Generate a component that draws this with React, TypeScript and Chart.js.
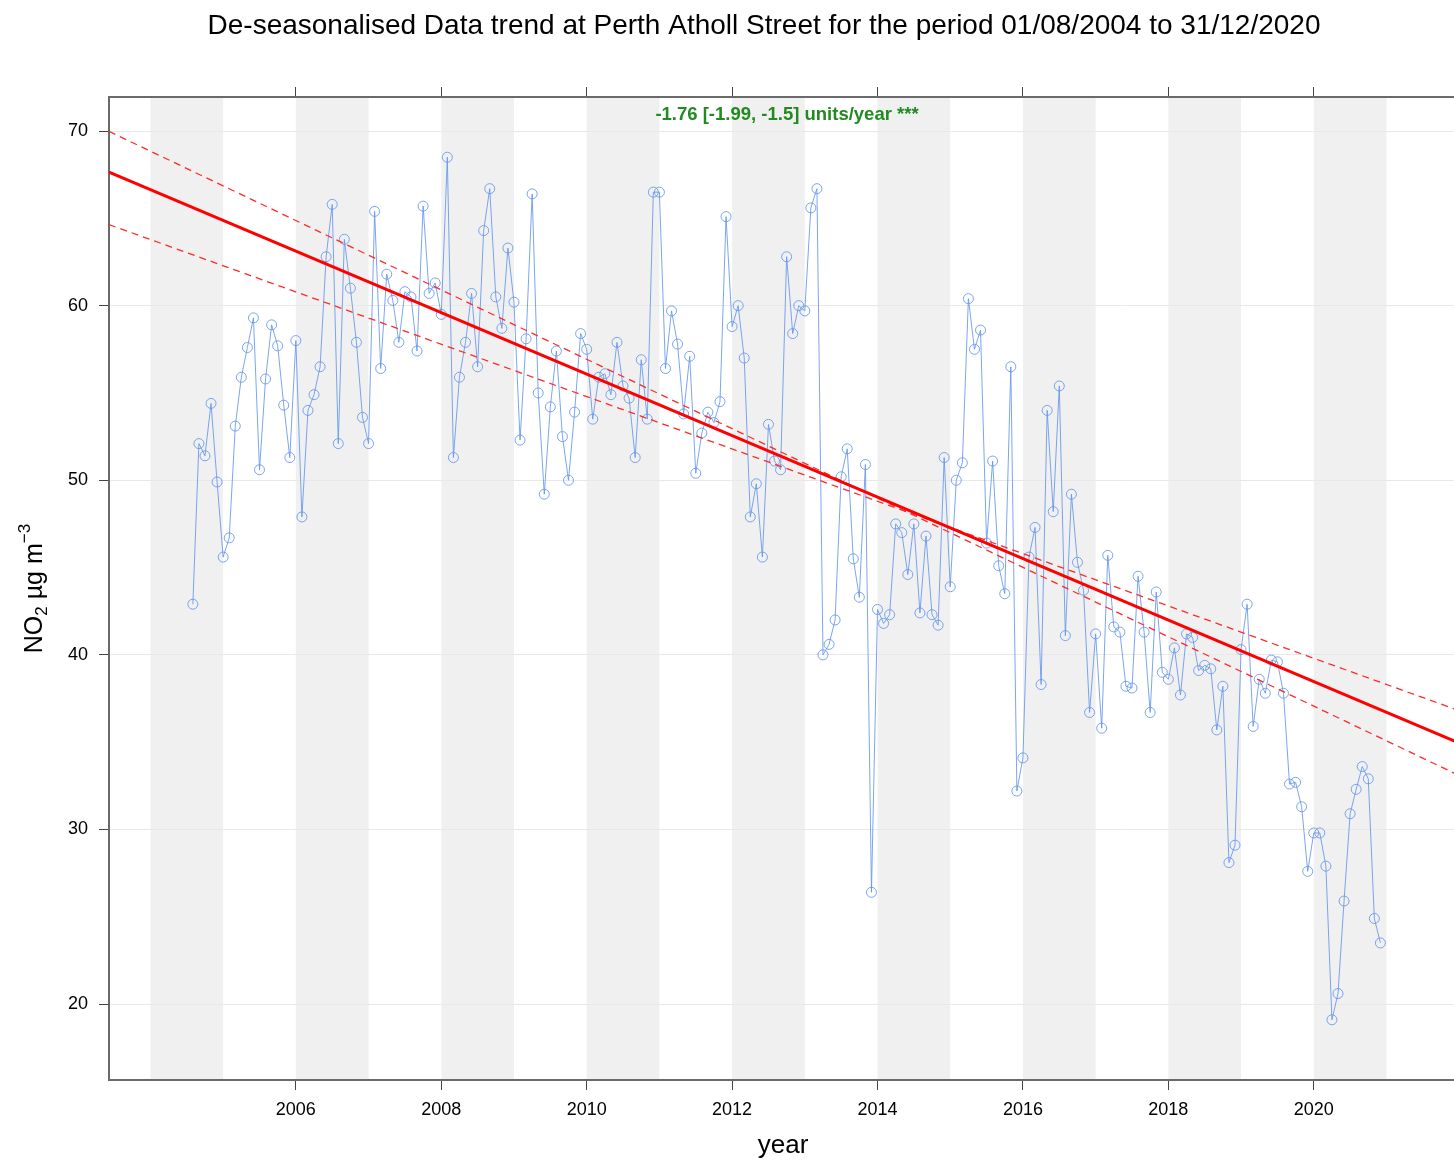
import { useEffect, useRef } from 'react';
import { Chart, registerables } from 'chart.js';

Chart.register(...registerables);

const FONT = "'Liberation Sans', Arial, Helvetica, sans-serif";
const TITLE = 'De-seasonalised Data trend at Perth Atholl Street for the period 01/08/2004 to 31/12/2020';
const TREND_TEXT = '-1.76 [-1.99, -1.5] units/year ***';

// Monthly de-seasonalised NO2 (µg m-3), first value = August 2004
const START_YEAR = 2004;
const START_MONTH = 8;
const no2_2004 = [42.9, 52.1, 51.4, 54.4, 49.9];
const no2_2005 = [45.6, 46.7, 53.1, 55.9, 57.6, 59.3, 50.6, 55.8, 58.9, 57.7, 54.3, 51.3];
const no2_2006 = [58.0, 47.9, 54.0, 54.9, 56.5, 62.8, 65.8, 52.1, 63.8, 61.0, 57.9, 53.6];
const no2_2007 = [52.1, 65.4, 56.4, 61.8, 60.3, 57.9, 60.8, 60.5, 57.4, 65.7, 60.7, 61.3];
const no2_2008 = [59.5, 68.5, 51.3, 55.9, 57.9, 60.7, 56.5, 64.3, 66.7, 60.5, 58.7, 63.3];
const no2_2009 = [60.2, 52.3, 58.1, 66.4, 55.0, 49.2, 54.2, 57.4, 52.5, 50.0, 53.9, 58.4];
const no2_2010 = [57.5, 53.5, 55.9, 56.1, 54.9, 57.9, 55.4, 54.7, 51.3, 56.9, 53.5, 66.5];
const no2_2011 = [66.5, 56.4, 59.7, 57.8, 53.8, 57.1, 50.4, 52.7, 53.9, 53.3, 54.5, 65.1];
const no2_2012 = [58.8, 60.0, 57.0, 47.9, 49.8, 45.6, 53.2, 51.1, 50.6, 62.8, 58.4, 60.0];
const no2_2013 = [59.7, 65.6, 66.7, 40.0, 40.6, 42.0, 50.2, 51.8, 45.5, 43.3, 50.9, 26.4];
const no2_2014 = [42.6, 41.8, 42.3, 47.5, 47.0, 44.6, 47.5, 42.4, 46.8, 42.3, 41.7, 51.3];
const no2_2015 = [43.9, 50.0, 51.0, 60.4, 57.5, 58.6, 46.4, 51.1, 45.1, 43.5, 56.5, 32.2];
const no2_2016 = [34.1, 45.6, 47.3, 38.3, 54.0, 48.2, 55.4, 41.1, 49.2, 45.3, 43.7, 36.7];
const no2_2017 = [41.2, 35.8, 45.7, 41.6, 41.3, 38.2, 38.1, 44.5, 41.3, 36.7, 43.6, 39.0];
const no2_2018 = [38.6, 40.4, 37.7, 41.2, 41.0, 39.1, 39.4, 39.2, 35.7, 38.2, 28.1, 29.1];
const no2_2019 = [40.3, 42.9, 35.9, 38.6, 37.8, 39.7, 39.6, 37.8, 32.6, 32.7, 31.3, 27.6];
const no2_2020 = [29.8, 29.8, 27.9, 19.1, 20.6, 25.9, 30.9, 32.3, 33.6, 32.9, 24.9, 23.5];

// Trend lines read at the left and right edges of the panel
const trendYears = [2003.43, 2021.97];
const trendMain = [67.65, 35.0];
const trendSteep = [69.98, 33.15];
const trendShallow = [64.64, 36.85];

// Axis settings
const X_MIN = 2003.43;
const X_MAX = 2021.97;
const Y_MIN = 15.65;
const Y_MAX = 71.95;
const xTickYears = [2006, 2008, 2010, 2012, 2014, 2016, 2018, 2020];
const yTicks = [20, 30, 40, 50, 60, 70];
const shadedYears = [2004, 2006, 2008, 2010, 2012, 2014, 2016, 2018, 2020];

const BLUE = 'rgba(100,149,237,0.85)';

export default function App() {
  const ref = useRef<HTMLCanvasElement>(null);

  useEffect(() => {
    if (!ref.current) return;
    const all = [
      ...no2_2004, ...no2_2005, ...no2_2006, ...no2_2007, ...no2_2008, ...no2_2009,
      ...no2_2010, ...no2_2011, ...no2_2012, ...no2_2013, ...no2_2014, ...no2_2015,
      ...no2_2016, ...no2_2017, ...no2_2018, ...no2_2019, ...no2_2020,
    ];
    const points = all.map((v, i) => {
      const m = START_MONTH - 1 + i;
      return { x: START_YEAR + m / 12, y: v };
    });
    const line = (vals: number[]) => trendYears.map((x, i) => ({ x, y: vals[i] }));

    const decor = {
      id: 'decor',
      beforeDraw(chart: any) {
        const { ctx, chartArea } = chart;
        const xs = chart.scales.x;
        ctx.save();
        ctx.beginPath();
        ctx.rect(chartArea.left, chartArea.top, chartArea.right - chartArea.left, chartArea.bottom - chartArea.top);
        ctx.clip();
        ctx.fillStyle = '#f0f0f0';
        shadedYears.forEach((yr) => {
          const a = xs.getPixelForValue(yr);
          const b = xs.getPixelForValue(yr + 1);
          ctx.fillRect(a, chartArea.top, b - a, chartArea.bottom - chartArea.top);
        });
        ctx.restore();
      },
      afterDraw(chart: any) {
        const { ctx, chartArea } = chart;
        ctx.save();
        // main title
        ctx.fillStyle = '#000';
        ctx.font = `28px ${FONT}`;
        ctx.textAlign = 'center';
        ctx.textBaseline = 'middle';
        ctx.fillText(TITLE, 764, 26);
        // trend annotation
        ctx.fillStyle = '#218a21';
        ctx.font = `bold 18.5px ${FONT}`;
        ctx.fillText(TREND_TEXT, (chartArea.left + chartArea.right) / 2 + 4, chartArea.top + 18);
        ctx.restore();

        // y-axis title with sub/superscripts
        ctx.save();
        const cy = (chartArea.top + chartArea.bottom) / 2;
        ctx.translate(35, cy);
        ctx.rotate(-Math.PI / 2);
        ctx.fillStyle = '#000';
        ctx.textBaseline = 'middle';
        ctx.textAlign = 'left';
        const big = `25px ${FONT}`;
        const small = `17px ${FONT}`;
        const parts = [
          { t: 'NO', f: big, dy: 0 },
          { t: '2', f: small, dy: 7 },
          { t: ' µg m', f: big, dy: 0 },
          { t: '−3', f: small, dy: -10 },
        ];
        let total = 0;
        parts.forEach((p) => { ctx.font = p.f; total += ctx.measureText(p.t).width; });
        let x = -total / 2;
        parts.forEach((p) => {
          ctx.font = p.f;
          ctx.fillText(p.t, x, p.dy);
          x += ctx.measureText(p.t).width;
        });
        ctx.restore();
      },
    };

    const chart = new Chart(ref.current, {
      type: 'scatter',
      data: {
        datasets: [
          { label: 'trend', data: line(trendMain), showLine: true, borderColor: '#ff0000', borderWidth: 3, pointRadius: 0, order: 1 },
          { label: 'upper', data: line(trendSteep), showLine: true, borderColor: '#ff2a2a', borderWidth: 1.3, borderDash: [7, 5], pointRadius: 0, order: 1 },
          { label: 'lower', data: line(trendShallow), showLine: true, borderColor: '#ff2a2a', borderWidth: 1.3, borderDash: [7, 5], pointRadius: 0, order: 1 },
          {
            label: 'NO2', data: points, showLine: true, borderColor: BLUE, borderWidth: 1,
            pointRadius: 5, pointBorderWidth: 1, pointBorderColor: BLUE, pointBackgroundColor: 'rgba(0,0,0,0)', order: 2,
          },
        ],
      },
      options: {
        responsive: false,
        animation: false,
        devicePixelRatio: 1,
        events: [],
        layout: { padding: { left: 0, right: 73, top: 0, bottom: 0 } },
        plugins: {
          legend: { display: false },
          tooltip: { enabled: false },
          title: { display: false },
        },
        scales: {
          x: {
            type: 'linear', position: 'bottom', min: X_MIN, max: X_MAX,
            afterBuildTicks: (s: any) => { s.ticks = xTickYears.map((v) => ({ value: v })); },
            afterFit: (s: any) => { s.height = 82; },
            grid: { drawOnChartArea: false, drawTicks: true, tickLength: 10, tickColor: '#444', lineWidth: 1 },
            border: { display: true, color: '#6a6a6a', width: 2 },
            ticks: { font: { family: FONT, size: 18 }, color: '#000', padding: 9, maxRotation: 0, autoSkip: false, callback: (v: any) => String(v) },
            title: { display: true, text: 'year', color: '#000', font: { family: FONT, size: 26 }, padding: { top: 0, bottom: 1 } },
          },
          x2: {
            type: 'linear', position: 'top', min: X_MIN, max: X_MAX,
            afterBuildTicks: (s: any) => { s.ticks = xTickYears.map((v) => ({ value: v })); },
            afterFit: (s: any) => { s.height = 97; },
            grid: { drawOnChartArea: false, drawTicks: true, tickLength: 10, tickColor: '#444', lineWidth: 1 },
            border: { display: true, color: '#6a6a6a', width: 2 },
            ticks: { display: false },
          },
          y: {
            type: 'linear', position: 'left', min: Y_MIN, max: Y_MAX,
            afterBuildTicks: (s: any) => { s.ticks = yTicks.map((v) => ({ value: v })); },
            afterFit: (s: any) => { s.width = 109; },
            grid: { color: '#e8e8e8', lineWidth: 1, drawTicks: true, tickLength: 10, tickColor: '#444' },
            border: { display: true, color: '#6a6a6a', width: 2 },
            ticks: { font: { family: FONT, size: 18 }, color: '#000', padding: 11 },
          },
        },
      },
      plugins: [decor],
    } as any);

    return () => chart.destroy();
  }, []);

  return (
    <div style={{ position: 'fixed', left: 0, top: 0, width: 1454, height: 1162, overflow: 'hidden', background: '#fff' }}>
      <canvas ref={ref} width={1530} height={1162} style={{ display: 'block', width: 1530, height: 1162 }} />
    </div>
  );
}
